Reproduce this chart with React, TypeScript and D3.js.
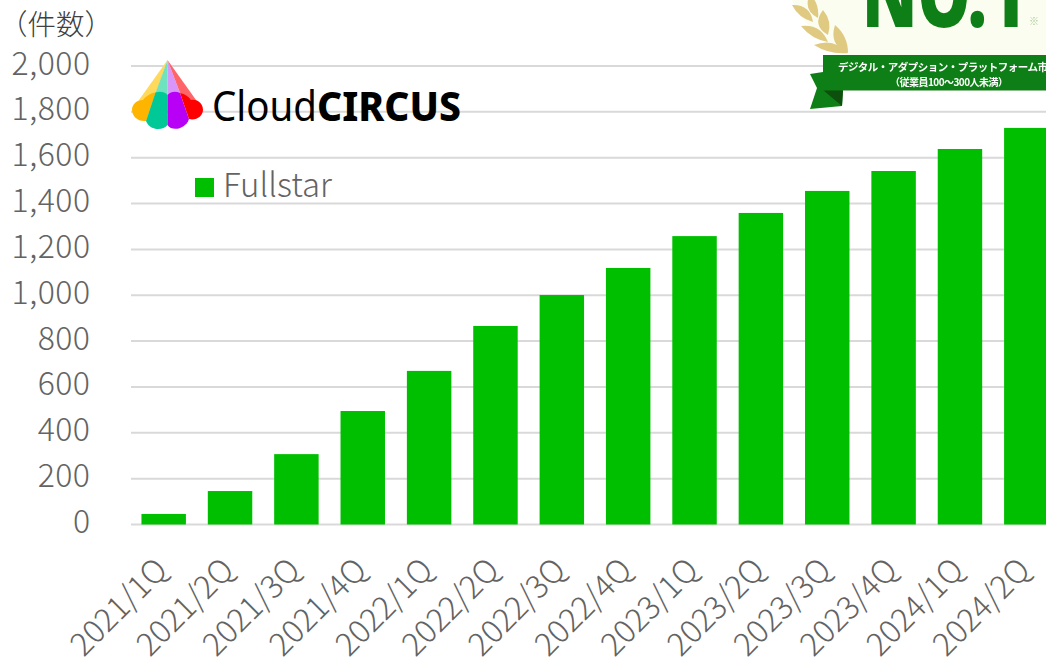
import React from "react";
import * as d3 from "d3";

const categories = ["2021/1Q","2021/2Q","2021/3Q","2021/4Q","2022/1Q","2022/2Q","2022/3Q","2022/4Q","2023/1Q","2023/2Q","2023/3Q","2023/4Q","2024/1Q","2024/2Q"];
const fullstar = [46,146,307,495,670,866,1001,1119,1258,1359,1455,1542,1638,1730];
const yTicks = [0,200,400,600,800,1000,1200,1400,1600,1800,2000];
const seriesName = "Fullstar";
const unitLabel = "（件数）";
const badgeLine1 = "デジタル・アダプション・プラットフォーム市場";
const badgeLine2 = "（従業員100〜300人未満）";

const FONT = "'Noto Sans CJK JP', 'Noto Sans', sans-serif";
const GREY = "#636363";
const GREEN = "#00bf00";

function Logo() {
  return (
    <g>
      <path d="M167.5 60 L134 107 L146 121 L156 93 Z" fill="#ffd95c" />
      <path d="M167.5 60 L155.5 93 L167.5 95 Z" fill="#6fe3bd" />
      <path d="M167.5 60 L167.5 95 L180 93 Z" fill="#d896fb" />
      <path d="M167.5 60 L180 93 L201 107 Z" fill="#ff6468" />
      <path d="M146 121 C138 122 132 116 132 110 C132 104 137 100 143 100 C146 96 151 93 155.5 92.5 Z" fill="#ffb400" />
      <path d="M155.5 92.5 C160 91 165 92 167.5 95 L167.5 125 C163 131 150 131 146 121 Z" fill="#00c896" />
      <path d="M167.5 95 C171 91 176 91 180 93 L189 119 C186 129 172 132 167.5 125 Z" fill="#b900f7" />
      <path d="M180 93 C185 94 189 97 191 100 C198 99 203 104 203 110 C203 116 196 121 189 119 Z" fill="#ff0000" />
      <text x="212" y="121" fontFamily="'Noto Sans', sans-serif" fontSize="41" fill="#000" textLength="105" lengthAdjust="spacingAndGlyphs">Cloud</text>
      <text x="317" y="121" fontFamily="'Noto Sans', sans-serif" fontWeight="800" fontSize="41" fill="#000" textLength="144" lengthAdjust="spacingAndGlyphs">CIRCUS</text>
    </g>
  );
}

const leafPairs = [
  [792,5,813,22,-5],[810,-6,818,18,5],
  [801,26,828,42,-5],[823,10,828,35,6],
  [814,45,848,53,-5],[835,25,848,53,6],
];

function leafPath([x1,y1,x2,y2,b]: number[]) {
  const mx = (x1+x2)/2, my = (y1+y2)/2;
  const dx = x2-x1, dy = y2-y1, len = Math.hypot(dx,dy);
  const nx = -dy/len, ny = dx/len;
  const w = Math.abs(b) * 2.4;
  const s = Math.sign(b);
  return `M${x1} ${y1} Q${mx+nx*w*s} ${my+ny*w*s} ${x2} ${y2} Q${mx-nx*w*s*0.5} ${my-ny*w*s*0.5} ${x1} ${y1} Z`;
}

function Badge() {
  return (
    <g filter="url(#soft)">
      <path d="M792 0 L1046 0 L1046 56 L848 56 C820 40 800 20 792 0 Z" fill="#fbfdf0" />
      {leafPairs.map((l,i) => <path key={i} d={leafPath(l)} fill="#e0c980" />)}
      <path d="M810 74 L823 72 L843 90 L842 106 L810 109 L817 88 Z" fill="#0e7f15" />
      <path d="M823 90 L843 90 L842 106 Z" fill="#0a4f0c" />
      <rect x="823" y="55" width="223" height="35.5" fill="#0e7f15" />
      <text x="862" y="27" fontFamily="'Noto Sans', sans-serif" fontWeight="900" fontSize="92" fill="#0e7f15" textLength="164" lengthAdjust="spacingAndGlyphs">NO.1</text>
      <text x="1029" y="25" fontFamily={FONT} fontSize="10" fill="#a8c898">※</text>
      <text x="838" y="70.5" fontFamily={FONT} fontWeight="700" fontSize="10.5" fill="#fff" textLength="220">{badgeLine1}</text>
      <text x="890" y="85.5" fontFamily={FONT} fontWeight="700" fontSize="10" fill="#fff" textLength="118">{badgeLine2}</text>
    </g>
  );
}

export default function App() {
  const width = 1046, height = 657;
  const x = d3.scaleBand<string>().domain(categories).range([131.5, 1058.5]).paddingInner(0.33).paddingOuter(0.15);
  const y = d3.scaleLinear().domain([0, 2000]).range([524.5, 66]);
  return (
    <svg width={width} height={height} viewBox={`0 0 ${width} ${height}`} style={{ position: "absolute", left: 0, top: 0, background: "#fff" }}>
      <defs>
        <filter id="soft" x="-5%" y="-5%" width="110%" height="110%"><feGaussianBlur stdDeviation="0.4" /></filter>
      </defs>
      {yTicks.map(t => (
        <line key={t} x1={131} x2={width} y1={y(t)} y2={y(t)} stroke="#d9d9d9" strokeWidth={2} />
      ))}
      {yTicks.map(t => (
        <text key={t} x={90.5} y={y(t) - 3} dy="0.36em" textAnchor="end" fontFamily={FONT} fontWeight={300} fontSize={32} letterSpacing={0.5} fill={GREY}>{d3.format(",")(t)}</text>
      ))}
      {categories.map((c, i) => (
        <rect key={c} x={x(c)} y={y(fullstar[i])} width={x.bandwidth()} height={y(0) - y(fullstar[i])} fill={GREEN} />
      ))}
      {categories.map(c => {
        const cx = x(c)! + x.bandwidth() / 2;
        return (
          <text key={c} transform={`translate(${cx - 10} 556) rotate(-45)`} textAnchor="end" dy="0.7em" fontFamily={FONT} fontWeight={300} fontSize={32} fill={GREY}>{c}</text>
        );
      })}
      <text x={-1} y={34.5} fontFamily={FONT} fontWeight={300} fontSize={28.5} fill="#404040">{unitLabel}</text>
      <rect x={195} y={178} width={19} height={19} fill={GREEN} />
      <text x={223} y={197} fontFamily={FONT} fontWeight={300} fontSize={33} fill={GREY}>{seriesName}</text>
      <Logo />
      <Badge />
    </svg>
  );
}
